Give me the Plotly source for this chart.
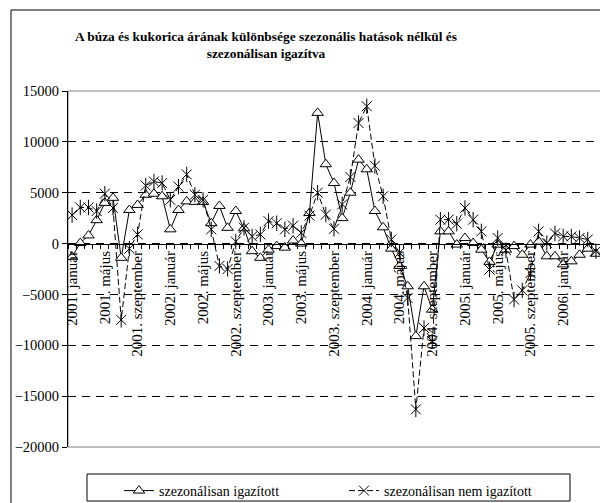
import plotly.graph_objects as go

# Monthly data, 2001. január .. 2006. május
adjusted = [-1300, 50, 800, 2300, 4000, 4500, -1400, 3300, 3800, 4800,
            4900, 4650, 1400, 3300, 4150, 4100, 4100, 2000, 3700, 1550,
            3200, 1500, -750, -1400, -600, -250, -400, 300, 0, 3000,
            12850, 7800, 5950, 2500, 5000, 8250, 7300, 3200, 1600, -500,
            -2200, -4200, -9100, -4200, -6500, 1200, 1200, -100, 550, 50,
            -600, -1800, -100, -600, -250, -1100, -100, 200, -1250, -1250,
            -2050, -1750, -1100, -500, -1000]
not_adjusted = [2800, 3550, 3550, 3200, 4900, 3500, -7500, -500, 900, 5700,
                6100, 5950, 4300, 5600, 6800, 4800, 4300, 1400, -2200, -2500,
                200, 1550, 700, 900, 2200, 2000, 1400, 1750, 1050, 2750,
                5000, 2850, 1450, 3850, 6550, 11850, 13500, 7650, 4650, 400,
                -900, -5350, -16300, -8300, -9600, 2350, 2350, 1950, 3500, 2350,
                1200, -2550, 550, -650, -5500, -4600, -2900, 1200, 50, 1000,
                700, 700, 550, 400, -750]
years = [2001, 2002, 2003, 2004, 2005, 2006]
label_months = ["január", "május", "szeptember"]
tick_labels = [f"{y}. {m}" for y in years for m in label_months][:17]

n = len(adjusted)
idx = list(range(n))
FONT = "Liberation Serif, Times New Roman, serif"

W, H = 600, 503
PL, PR, PT, PB = 68, 600, 91, 447   # plot area in pixels

def px(x):
    return x / W

def py(y):
    return 1 - y / H

fig = go.Figure()
fig.add_trace(go.Scatter(
    x=idx, y=adjusted, mode="lines+markers", name="szezonálisan igazított",
    line=dict(color="black", width=1),
    marker=dict(symbol="triangle-up", size=10, color="white",
                line=dict(color="black", width=1)),
))
fig.add_trace(go.Scatter(
    x=idx, y=not_adjusted, mode="lines+markers", name="szezonálisan nem igazított",
    legendgroup="na",
    line=dict(color="black", width=1, dash="6px,3px"),
    marker=dict(symbol="x-thin-open", size=10, color="black",
                line=dict(color="black", width=1)),
))
fig.add_trace(go.Scatter(
    x=idx, y=not_adjusted, mode="markers", showlegend=False, legendgroup="na",
    marker=dict(symbol="line-ns-open", size=11, color="black",
                line=dict(color="black", width=1)),
    hoverinfo="skip",
))

fig.update_layout(
    width=W, height=H,
    margin=dict(l=0, r=0, t=0, b=0, autoexpand=False),
    paper_bgcolor="white", plot_bgcolor="white",
    font=dict(family=FONT, size=14, color="black"),
    showlegend=True,
    title=dict(
        text="<b>A búza és kukorica árának különbsége szezonális hatások nélkül és<br>szezonálisan igazítva</b>",
        x=266 / W, xanchor="center", xref="paper",
        y=1 - 41 / H, yanchor="middle", yref="paper",
        font=dict(family=FONT, size=13.4, color="black"),
    ),
    legend=dict(
        orientation="h", x=px(119), xanchor="left", y=py(475), yanchor="top",
        font=dict(family=FONT, size=14, color="black"),
        bgcolor="rgba(0,0,0,0)", borderwidth=0,
        entrywidth=180, entrywidthmode="pixels",
        itemwidth=30,
    ),
    xaxis=dict(
        domain=[px(PL), px(PR)],
        range=[-0.5, n - 0.5], anchor="free", position=py(244),
        tickmode="array", tickvals=list(range(0, n, 4)), ticktext=tick_labels,
        tickangle=-90, ticks="", showgrid=False, zeroline=False,
        showline=True, linecolor="black", linewidth=1, automargin=False,
        tickfont=dict(family=FONT, size=15, color="black"),
        minor=dict(tickmode="array", tickvals=[i - 0.5 for i in range(n + 1)],
                   ticks="outside", ticklen=4, tickcolor="black", showgrid=False),
    ),
    yaxis=dict(
        domain=[py(PB), py(PT)],
        range=[-20000, 15000], tickmode="linear", tick0=-20000, dtick=5000,
        tickformat="d",
        ticks="outside", ticklen=5, tickcolor="black",
        showline=True, linecolor="black", linewidth=1, automargin=False,
        showgrid=True, gridcolor="black", gridwidth=1, griddash="8px,6px",
        zeroline=False,
        tickfont=dict(family=FONT, size=14.5, color="black"),
    ),
    shapes=[
        # plot area border (grey)
        dict(type="rect", xref="paper", yref="paper", x0=px(PL), x1=px(640),
             y0=py(PB), y1=py(PT), line=dict(color="#808080", width=1), layer="below"),
        # outer chart border
        dict(type="rect", xref="paper", yref="paper", x0=px(11), x1=px(640),
             y0=py(540), y1=py(10), line=dict(color="black", width=1)),
        # legend box
        dict(type="rect", xref="paper", yref="paper", x0=px(87), x1=px(570),
             y0=py(501), y1=py(474), line=dict(color="black", width=1)),
    ],
)

fig.write_html("out.html", config={"displayModeBar": False},
               post_script="document.body.style.margin='0';document.body.style.overflow='hidden';")
